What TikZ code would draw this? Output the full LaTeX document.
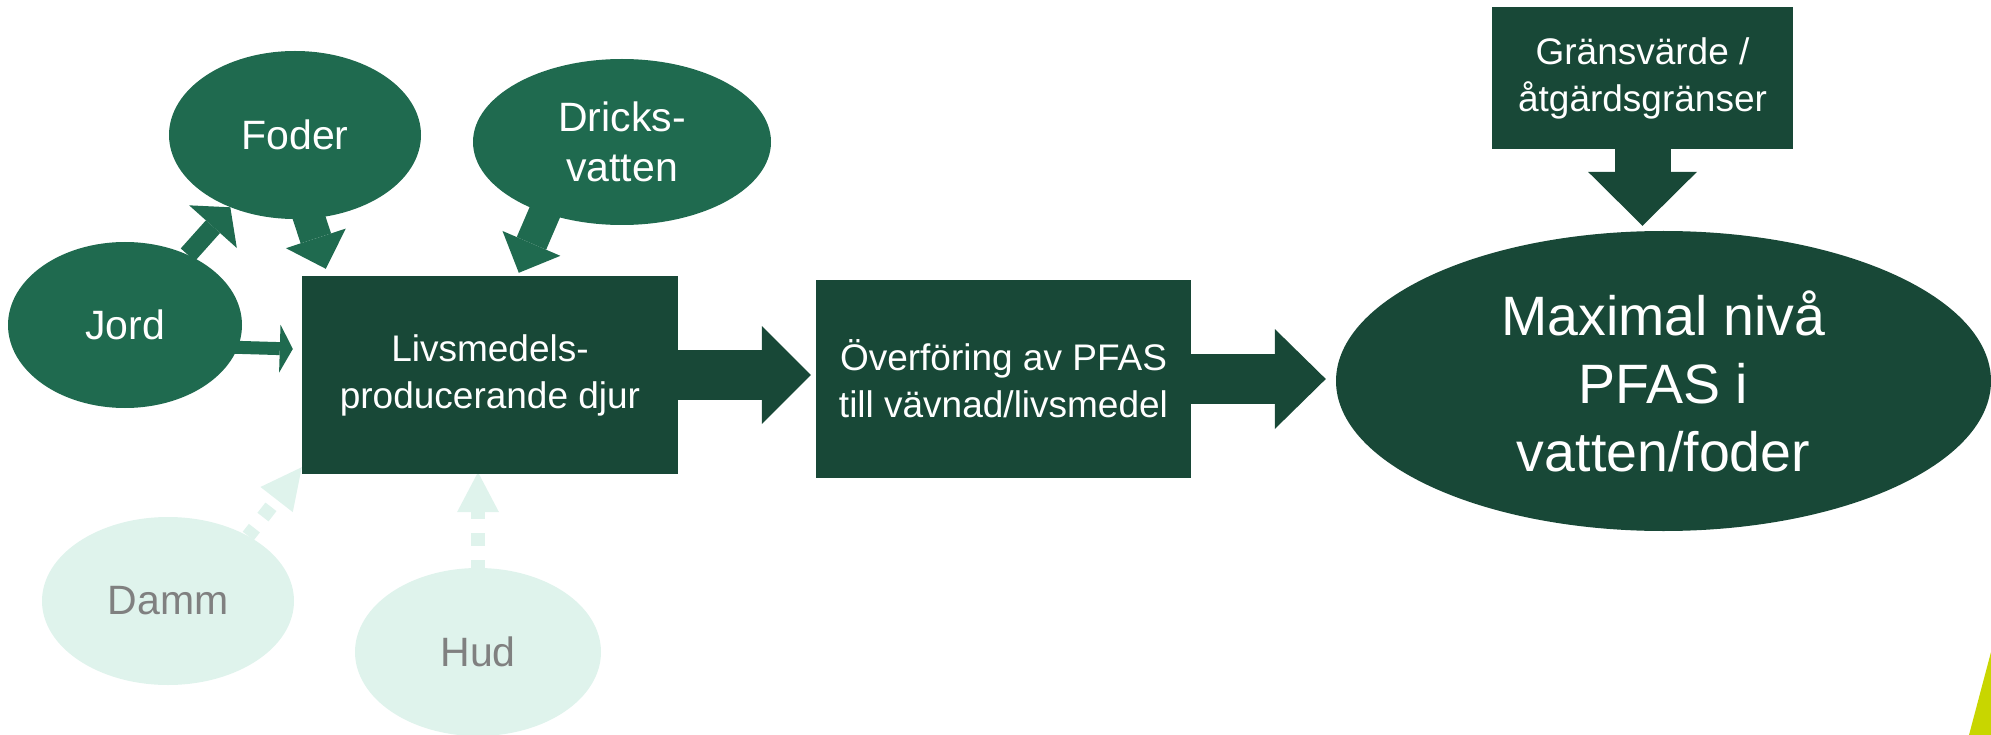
\documentclass[tikz,border=0pt]{standalone}
\usepackage{fontspec}
\setmainfont{Liberation Sans}
\usetikzlibrary{arrows.meta,shapes.geometric,calc}
\definecolor{midgreen}{RGB}{31,106,79}
\definecolor{darkgreen}{RGB}{24,72,55}
\definecolor{mint}{RGB}{223,243,236}
\definecolor{greytext}{RGB}{128,128,128}
\definecolor{limegreen}{RGB}{200,214,0}
\pgfdeclarelayer{bg}
\pgfsetlayers{bg,main}
\begin{document}
\begin{tikzpicture}[x=1pt,y=-1pt,
  srcoval/.style={ellipse, fill=midgreen, text=white, inner sep=0pt, align=center, font=\fontsize{41}{50}\selectfont},
  mintoval/.style={ellipse, fill=mint, text=greytext, inner sep=0pt, font=\fontsize{41}{50}\selectfont},
  darkbox/.style={rectangle, fill=darkgreen, text=white, inner sep=0pt, align=center, font=\fontsize{37}{47}\selectfont},
  bigoval/.style={ellipse, fill=darkgreen, text=white, inner sep=0pt, align=center, font=\fontsize{55.5}{68}\selectfont},
  greenarrow/.style n args={3}{draw=midgreen, line width=#1, -{Triangle[length=#2, width=#3, line width=0pt]}},
  blockarrow/.style n args={3}{draw=darkgreen, line width=#1, -{Triangle[length=#2, width=#3, line width=0pt]}},
  mintarrow/.style n args={3}{draw=mint, line width=#1, dash pattern=on 13pt off 14pt, -{Triangle[length=#2, width=#3, line width=0pt]}}
]
\useasboundingbox (0,0) rectangle (1991,735);

% source ovals
\node[srcoval, minimum width=234pt, minimum height=166pt] (jord) at (125,325) {Jord};
\node[srcoval, minimum width=252pt, minimum height=168pt] (foder) at (295,135) {Foder};
\node[srcoval, minimum width=298pt, minimum height=166pt] (dricks) at (622,142) {Dricks-\\vatten};
\node[mintoval, minimum width=252pt, minimum height=168pt] (damm) at (168,601) {Damm};
\node[mintoval, minimum width=246pt, minimum height=168pt] (hud) at (478,652) {Hud};

% boxes
\node[darkbox, minimum width=376pt, minimum height=198pt] (djur) at (490,375) {Livsmedels-\\producerande djur};
\node[darkbox, minimum width=375pt, minimum height=198pt] (overf) at (1003.5,379) {Överföring av PFAS\\till vävnad/livsmedel};
\node[darkbox, minimum width=301pt, minimum height=142pt] (grans) at (1642.5,78) {Gränsvärde /\\åtgärdsgränser};
\node[bigoval, minimum width=655pt, minimum height=300pt] (maxniva) at (1663.5,381) {Maximal nivå\\PFAS i\\vatten/foder};

\begin{pgfonlayer}{bg}
  \draw[greenarrow={19pt}{26pt}{64pt}] (jord) -- (foder);
  \draw[greenarrow={13pt}{13pt}{48pt}] ($(jord.center)+(0,19)$) -- ($(djur.west)+(-9,-26)$);
  \draw[greenarrow={32pt}{32pt}{63pt}] ($(foder.center)+(-13,0)$) -- ($(djur.north west)+(24,-7)$);
  \draw[greenarrow={32pt}{32pt}{63pt}] ($(dricks.center)+(-47,0)$) -- ($(djur.north west)+(217,-3)$);
  \draw[mintarrow={14pt}{41pt}{41pt}, dash phase=3pt] (damm.39) -- ($(djur.south west)+(0,-7)$);
  \draw[mintarrow={14pt}{40pt}{42pt}, dash phase=5pt] (hud.north) -- ($(hud.north |- djur.south)+(0,-2)$);
  \draw[blockarrow={50pt}{49pt}{98pt}] (djur.east) -- ($(djur.east -| overf.west)+(-5,0)$);
  \draw[blockarrow={50pt}{51pt}{100pt}] (overf.east) -- ($(overf.east -| maxniva.west)+(-10,0)$);
  \draw[blockarrow={56pt}{54pt}{109pt}] (grans.south) -- ($(grans.south |- maxniva.north)+(0,-5)$);
\end{pgfonlayer}

% decorative corner
\fill[limegreen] (1969,735) -- (1991,652) -- (1991,735) -- cycle;
\end{tikzpicture}
\end{document}
